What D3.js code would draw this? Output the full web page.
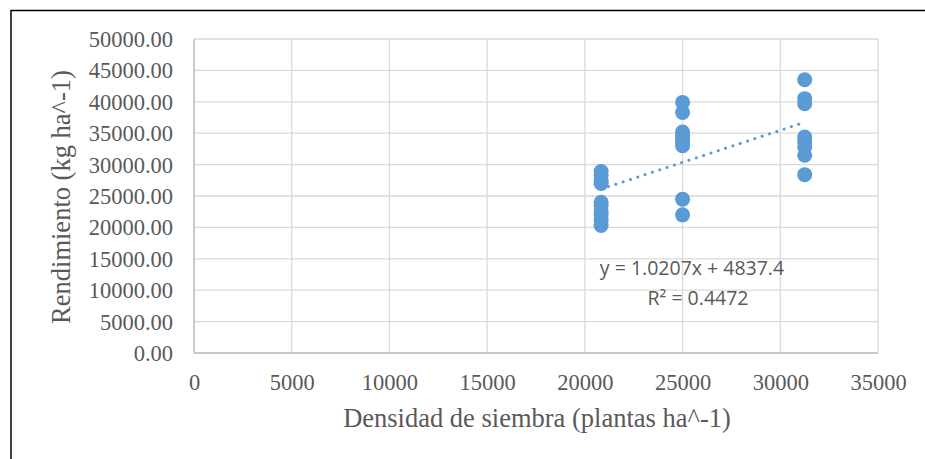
<!DOCTYPE html>
<html>
<head>
<meta charset="utf-8">
<script src="https://cdn.jsdelivr.net/npm/d3@7"></script>
<style>
  html, body { margin: 0; padding: 0; background: #fff; }
  svg { display: block; }
</style>
</head>
<body>
<svg id="chart" width="925" height="459"></svg>
<script>
// Planting density (plants/ha) for each group of plots
const densities = [20833, 25000, 31250];

// Yield (kg/ha) per plot, one list per density
const yieldLow = [28900, 28300, 27400, 27000, 24000, 23500, 22600, 22000, 21200, 20300];
const yieldMid = [39900, 38300, 35200, 34600, 34000, 33500, 33000, 24500, 22000];
const yieldHigh = [43500, 40500, 39700, 34400, 33600, 32800, 31500, 28400];

const xTicks = [0, 5000, 10000, 15000, 20000, 25000, 30000, 35000];
const yTicks = [0, 5000, 10000, 15000, 20000, 25000, 30000, 35000, 40000, 45000, 50000];

// Linear trend fitted to the plots
const trendSlope = 1.0207;
const trendIntercept = 4837.4;
const rSquared = 0.4472;

const points = [];
[yieldLow, yieldMid, yieldHigh].forEach((arr, i) => {
  arr.forEach(v => points.push({ x: densities[i], y: v }));
});

const svg = d3.select("#chart");
const blue = "#5B9BD5";
const textGrey = "#595959";
const serif = "'Liberation Serif', 'Times New Roman', serif";

// Outer frame
svg.append("path")
  .attr("d", "M11,459 L11,10.5 L925,10.5")
  .attr("fill", "none")
  .attr("stroke", "#000")
  .attr("stroke-width", 1.5);

const x = d3.scaleLinear().domain([0, 35000]).range([194, 878]);
const y = d3.scaleLinear().domain([0, 50000]).range([353, 39]);

// Grid
svg.append("g").selectAll("line.h").data(yTicks).join("line")
  .attr("x1", x(0)).attr("x2", x(35000))
  .attr("y1", d => y(d)).attr("y2", d => y(d))
  .attr("stroke", "#d9d9d9").attr("stroke-width", 1.3);
svg.append("g").selectAll("line.v").data(xTicks).join("line")
  .attr("y1", y(0)).attr("y2", y(50000))
  .attr("x1", d => x(d)).attr("x2", d => x(d))
  .attr("stroke", "#d9d9d9").attr("stroke-width", 1.3);

// Axis lines
svg.append("line").attr("x1", x(0)).attr("x2", x(35000)).attr("y1", y(0)).attr("y2", y(0))
  .attr("stroke", "#bfbfbf").attr("stroke-width", 1.3);
svg.append("line").attr("x1", x(0)).attr("x2", x(0)).attr("y1", y(0)).attr("y2", y(50000))
  .attr("stroke", "#bfbfbf").attr("stroke-width", 1.3);

// Axes (labels only; lines drawn above)
const yAxis = d3.axisLeft(y).tickValues(yTicks).tickSize(0).tickPadding(0)
  .tickFormat(d => d3.format(".2f")(d));
const gy = svg.append("g").attr("transform", "translate(173,0)").call(yAxis);
gy.select(".domain").remove();
gy.selectAll("text")
  .attr("font-family", serif)
  .attr("font-size", 22.5).attr("fill", textGrey).attr("dy", "0.33em");

const xAxis = d3.axisBottom(x).tickValues(xTicks).tickSize(0).tickPadding(0)
  .tickFormat(d3.format("d"));
const gx = svg.append("g").attr("transform", "translate(0,390)").call(xAxis);
gx.select(".domain").remove();
gx.selectAll("text")
  .attr("font-family", serif)
  .attr("font-size", 22.5).attr("fill", textGrey).attr("y", 0).attr("dy", 0);

// Points
svg.append("g").selectAll("circle").data(points).join("circle")
  .attr("cx", d => x(d.x)).attr("cy", d => y(d.y)).attr("r", 7.5)
  .attr("fill", blue);

// Trend line over the observed density range
const xMin = d3.min(densities), xMax = d3.max(densities);
svg.append("line")
  .attr("x1", x(xMin)).attr("y1", y(trendSlope * xMin + trendIntercept))
  .attr("x2", x(xMax)).attr("y2", y(trendSlope * xMax + trendIntercept))
  .attr("stroke", blue).attr("stroke-width", 3)
  .attr("stroke-linecap", "round").attr("stroke-dasharray", "0.1 7.6");

// Equation labels
const eqFont = "'Open Sans', 'Liberation Sans', sans-serif";
svg.append("text").attr("x", 692).attr("y", 275).attr("text-anchor", "middle")
  .attr("font-family", eqFont).attr("font-size", 19.5).attr("fill", textGrey)
  .text(`y = ${trendSlope}x + ${trendIntercept}`);
svg.append("text").attr("x", 698).attr("y", 305).attr("text-anchor", "middle")
  .attr("font-family", eqFont).attr("font-size", 19.5).attr("fill", textGrey)
  .text(`R² = ${rSquared}`);

// Axis titles
svg.append("text").attr("x", 537).attr("y", 427).attr("text-anchor", "middle")
  .attr("font-family", serif)
  .attr("font-size", 26.5).attr("fill", textGrey)
  .text("Densidad de siembra (plantas ha^-1)");
svg.append("text")
  .attr("transform", "translate(70,197) rotate(-90)")
  .attr("text-anchor", "middle")
  .attr("font-family", serif)
  .attr("font-size", 26.5).attr("fill", textGrey)
  .text("Rendimiento (kg ha^-1)");
</script>
</body>
</html>
